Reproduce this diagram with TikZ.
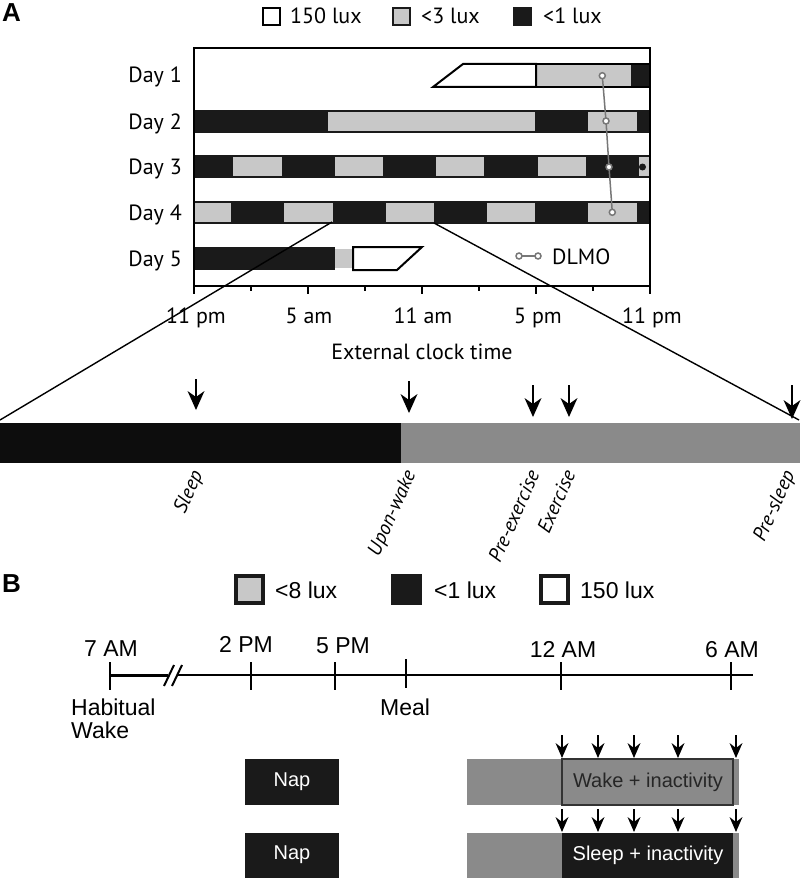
\documentclass[tikz,border=0pt]{standalone}
\usepackage{fontspec}
\setmainfont{PT Sans}
\newfontfamily\arialf{Liberation Sans}
\usetikzlibrary{calc}
\definecolor{blk}{HTML}{1A1A1A}
\definecolor{lgray}{HTML}{C8C8C8}
\definecolor{mgray}{HTML}{8A8A8A}
\definecolor{dlmo}{HTML}{777777}
% arrow head: tip coordinate, half width, length, inset
\newcommand\myhead[4]{\fill[black] (#1) -- ++(-#2,-#3) -- ++(#2,#4) -- ++(#2,-#4) -- cycle;}
\begin{document}
\begin{tikzpicture}[x=1pt,y=-1pt,
  txa/.style={inner sep=0pt, font=\fontsize{22}{26}\selectfont},
  txb/.style={inner sep=0pt, font=\arialf\fontsize{23}{27}\selectfont},
  barb/.style={inner sep=0pt, font=\arialf\fontsize{20}{24}\selectfont},
  rotl/.style={inner sep=0pt, rotate=66, anchor=base east, font=\itshape\fontsize{20}{24}\selectfont},
  panel/.style={inner sep=0pt, anchor=base west, font=\arialf\bfseries\fontsize{26}{30}\selectfont},
  arrA/.style={line width=2.6pt, shorten >=8pt},
  arrB/.style={line width=2pt, shorten >=6pt},
  framel/.style={line width=2pt},
  dl/.style={draw=dlmo, line width=1.5pt, fill=white},
]
\fill[white] (0,0) rectangle (800,880);
\useasboundingbox (0,0) rectangle (800,880);

% ---------------- Panel A ----------------
\node[panel] (labA) at (2,22) {A};
\draw[line width=2pt, fill=white] (263,8) rectangle (280,25);
\node[txa, anchor=base west] (lg1) at (290,24) {150 lux};
\draw[line width=2pt, draw=blk, fill=lgray] (393,8) rectangle (410,25);
\node[txa, anchor=base west] (lg2) at (421,24) {<3 lux};
\fill[blk] (513,7) rectangle (532,26);
\node[txa, anchor=base west] (lg3) at (543,24) {<1 lux};

% Day 1
\fill[lgray] (536,64) rectangle (631,87);
\fill[blk] (631,64) rectangle (650,87);
\draw[framel, fill=white] (463,64) -- (536,64) -- (536,87) -- (433,87) -- cycle;
\draw[framel] (536,64) -- (650,64) (536,87) -- (650,87);
% Day 2
\fill[blk] (194,110) rectangle (650,133);
\fill[lgray] (328,112) rectangle (535,131);
\fill[lgray] (588,112) rectangle (637,131);
% Day 3
\fill[blk] (194,155) rectangle (650,178);
\foreach \a/\b in {233/282,335/383,436/484,538/586,639/650}
  \fill[lgray] (\a,157) rectangle (\b,176);
\fill[blk] (642.5,167) circle (3.5);
% Day 4
\fill[blk] (194,201) rectangle (650,224);
\foreach \a/\b in {195/231,284/333,386/434,487/535,588/637}
  \fill[lgray] (\a,203) rectangle (\b,222);
% Day 5
\fill[blk] (194,247) rectangle (335,270);
\fill[lgray] (335,249) rectangle (352,268);
\draw[framel, fill=white] (353,247) -- (422,247) -- (397,270) -- (353,270) -- cycle;

% frame and axis
\draw[framel] (194,286) -- (194,48) -- (650,48) -- (650,286) -- cycle;
\foreach \x in {194,308,422,536,650} \draw[framel] (\x,286) -- (\x,294);
\foreach \x in {251,365,479,593} \draw[framel] (\x,286) -- (\x,291);

\node[txa, anchor=base east] (d1) at (182,83) {Day 1};
\node[txa, anchor=base east] (d2) at (182,129) {Day 2};
\node[txa, anchor=base east] (d3) at (182,174) {Day 3};
\node[txa, anchor=base east] (d4) at (182,220) {Day 4};
\node[txa, anchor=base east] (d5) at (182,266) {Day 5};

\node[txa, anchor=base] (t1) at (196,323) {11 pm};
\node[txa, anchor=base] (t2) at (309,323) {5 am};
\node[txa, anchor=base] (t3) at (423,323) {11 am};
\node[txa, anchor=base] (t4) at (538,323) {5 pm};
\node[txa, anchor=base] (t5) at (652,323) {11 pm};
\node[txa, anchor=base] (xlab) at (422,359) {External clock time};

% DLMO
\draw[draw=dlmo, line width=1.5pt] (602.3,75.7) -- (606,121) -- (609,167) -- (612.3,212.3);
\foreach \p in {(602.3,75.7),(606,121),(609,167),(612.3,212.3)}
  \draw[dl] \p circle (3);
\draw[draw=dlmo, line width=1.5pt] (519,256) -- (538,256);
\draw[dl] (519,256) circle (3);
\draw[dl] (538,256) circle (3);
\node[txa, anchor=base west] (dlmo) at (552,264) {DLMO};

% zoom lines
\coordinate (zl1) at (332,222);
\coordinate (zl2) at (434,223);
\coordinate (bl) at (0,420);
\coordinate (br) at (799,420);
\draw[line width=1.4pt] (zl1) -- (bl);
\draw[line width=1.4pt] (zl2) -- (br);

% middle bar
\fill[black!95] (0,423) rectangle (401,463);
\fill[mgray] (401,423) rectangle (800,463);

\coordinate (s0) at (196,379); \coordinate (s1) at (196,410);
\coordinate (u0) at (409,381); \coordinate (u1) at (409,413);
\coordinate (p0) at (533,385); \coordinate (p1) at (533,417);
\coordinate (e0) at (569,385); \coordinate (e1) at (569,417);
\coordinate (q0) at (792,385); \coordinate (q1) at (792,419);
\foreach \n in {s,u,p,e,q} {
  \draw[arrA] (\n0) -- (\n1);
  \myhead{\n1}{8.5}{19}{6}
}

\node[rotl] (lsleep) at (203,474) {Sleep};
\node[rotl] (lwake) at (416,474) {Upon-wake};
\node[rotl] (lpre) at (540,474) {Pre-exercise};
\node[rotl] (lex) at (576,474) {Exercise};
\node[rotl] (lps) at (795,474) {Pre-sleep};

% ---------------- Panel B ----------------
\node[panel] (labB) at (2,592) {B};
\draw[line width=3.5pt, draw=blk, fill=lgray] (236,576) rectangle (263,603);
\node[txb, anchor=base west] (lb1) at (275,598) {<8 lux};
\fill[blk] (391,574) rectangle (422,605);
\node[txb, anchor=base west] (lb2) at (434,598) {<1 lux};
\draw[line width=3.5pt, draw=blk, fill=white] (541,576) rectangle (568,603);
\node[txb, anchor=base west] (lb3) at (580,598) {150 lux};

% timeline
\draw[line width=3pt] (110,675) -- (168,675);
\draw[line width=2pt] (164,686) -- (174,665) (172,686) -- (182,665);
\draw[line width=2pt] (178,675) -- (753,675);
\foreach \x in {110,251,335,561,731} \draw[line width=2.5pt] (\x,662) -- (\x,690);
\draw[line width=2.5pt] (406,659) -- (406,688);

\node[txb, anchor=base] (h7) at (111,656) {7 AM};
\node[txb, anchor=base] (h14) at (246,652) {2 PM};
\node[txb, anchor=base] (h17) at (343,653) {5 PM};
\node[txb, anchor=base] (h24) at (563,657) {12 AM};
\node[txb, anchor=base] (h6) at (732,657) {6 AM};
\node[txb, anchor=base west] (hw1) at (71,715) {Habitual};
\node[txb, anchor=base west] (hw2) at (71,738) {Wake};
\node[txb, anchor=base west] (meal) at (380,715) {Meal};

% row 1
\fill[blk] (245,759) rectangle (339,805);
\fill[mgray] (467,759) rectangle (562,805);
\fill[mgray] (733,759) rectangle (739,805);
\draw[line width=1.5pt, draw=black!80, fill=mgray] (562,759) rectangle (733,805);
\node[barb, text=white] (nap1) at (292,782) {Nap};
\node[barb, text=black!85] (wk) at (648,782) {Wake + inactivity};
% row 2
\fill[blk] (245,833) rectangle (339,878);
\fill[mgray] (467,833) rectangle (562,878);
\fill[blk] (562,833) rectangle (733,878);
\fill[mgray] (733,833) rectangle (739,878);
\node[barb, text=white] (nap2) at (292,855) {Nap};
\node[barb, text=white] (sl) at (648,855) {Sleep + inactivity};

\foreach \x [count=\i] in {562,598,634,678,736} {
  \coordinate (ra\i) at (\x,735); \coordinate (rb\i) at (\x,758);
  \coordinate (rc\i) at (\x,809); \coordinate (rd\i) at (\x,832);
  \draw[arrB] (ra\i) -- (rb\i);
  \draw[arrB] (rc\i) -- (rd\i);
  \myhead{rb\i}{6.5}{15}{5}
  \myhead{rd\i}{6.5}{15}{5}
}
\end{tikzpicture}
\end{document}
